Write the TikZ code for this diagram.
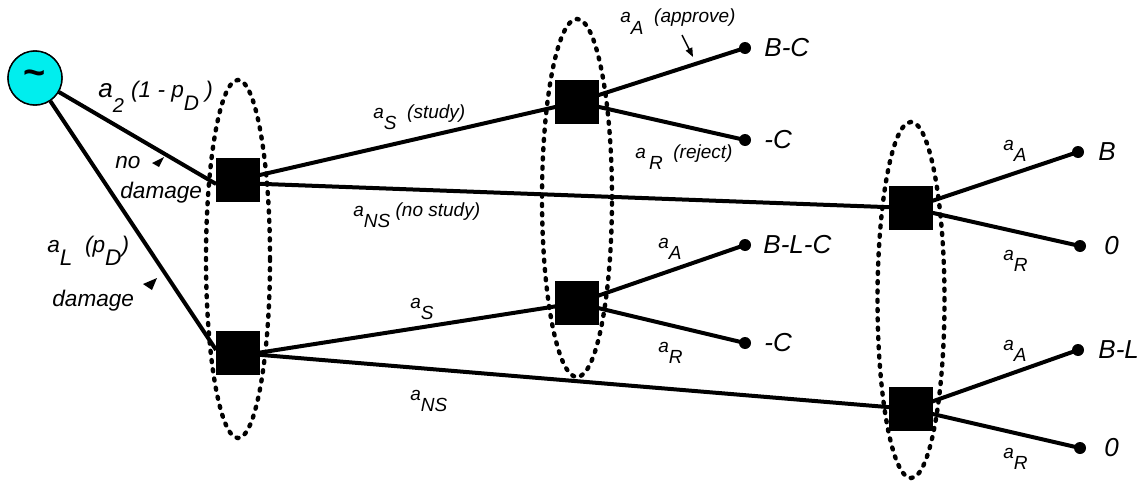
\documentclass[tikz,border=0pt]{standalone}
\usepackage{fontspec}
\setmainfont{Liberation Sans}
\usetikzlibrary{shapes.geometric,arrows.meta}
\newcommand\dn[1]{\raisebox{-0.6em}{#1}}
\definecolor{chancecol}{RGB}{0,238,238}
\begin{document}
\begin{tikzpicture}[x=0.5pt,y=-0.5pt,
  decbox/.style={rectangle, fill=black, minimum size=21.5pt, inner sep=0},
  br/.style={line width=2pt},
  info/.style={ellipse, draw, line width=2.2pt, dash pattern=on 1pt off 3.65pt, line cap=round, inner sep=0},
  term/.style={circle, fill=black, minimum size=6pt, inner sep=0},
  chance/.style={circle, draw, line width=0.7pt, fill=chancecol, minimum size=27pt, inner sep=0, font=\fontsize{19}{20}\selectfont\bfseries},
  sl/.style={font=\fontsize{9.5}{11}\selectfont\itshape, inner sep=0, anchor=base west},
  bl/.style={font=\fontsize{11.3}{13}\selectfont\itshape, inner sep=0, anchor=base west},
  tl/.style={font=\fontsize{13}{15}\selectfont\itshape, inner sep=0, anchor=west},
  pointer/.style={fill=black}
]
\useasboundingbox (0,0) rectangle (1146,482);

% decision nodes
\node[decbox] (s1) at (238,180) {};
\node[decbox] (s2) at (238,353) {};
\node[decbox] (s3) at (577,102) {};
\node[decbox] (s4) at (577,303) {};
\node[decbox] (s5) at (911,208) {};
\node[decbox] (s6) at (911,409) {};

% terminal nodes
\node[term] (t1) at (745,48) {};
\node[term] (t2) at (745,140) {};
\node[term] (t3) at (745,245) {};
\node[term] (t4) at (745,343) {};
\node[term] (t5) at (1078,152) {};
\node[term] (t6) at (1080,246) {};
\node[term] (t7) at (1078,350) {};
\node[term] (t8) at (1080,448) {};

% chance node
\node[chance] (c) at (35,78) {\textasciitilde};

% branches
\draw[br] (c) -- ([yshift=-2pt]s1.west);
\draw[br] (c) -- ([yshift=1.5pt]s2.west);
\draw[br] (s1.center) -- (s3.center);
\draw[br] ([yshift=-1.5pt]s1.center) -- (s5.center);
\draw[br] ([yshift=-1.5pt]s2.center) -- (s4.center);
\draw[br] (s2.center) -- (s6.center);
\draw[br] (s3.center) -- (t1.center);
\draw[br] (s3.center) -- (t2.center);
\draw[br] (s4.center) -- (t3.center);
\draw[br] (s4.center) -- (t4.center);
\draw[br] (s5.center) -- (t5.center);
\draw[br] (s5.center) -- (t6.center);
\draw[br] (s6.center) -- (t7.center);
\draw[br] (s6.center) -- (t8.center);

% redraw squares on top
\foreach \s in {s1,s2,s3,s4,s5,s6} {\fill (\s.south west) rectangle (\s.north east);}
\node[chance] at (c.center) {\textasciitilde};

% information sets
\node[info, minimum width=32pt, minimum height=179pt] (e1) at (238,259) {};
\node[info, minimum width=35pt, minimum height=179pt] (e2) at (577,198) {};
\node[info, minimum width=33.5pt, minimum height=178pt] (e3) at (911,300) {};

% terminal labels
\node[tl] (v1) at (764,48) {B-C};
\node[tl] (v2) at (764,140) {-C};
\node[tl] (v3) at (763,245) {B-L-C};
\node[tl] (v4) at (764,343) {-C};
\node[tl] (v5) at (1098,152) {B};
\node[tl] (v6) at (1104,246) {0};
\node[tl] (v7) at (1098,350) {B-L};
\node[tl] (v8) at (1104,448) {0};

% chance branch labels
\node[bl] (lnd) at (98,97) {\fontsize{13}{13}\selectfont a\dn{\fontsize{10}{10}\selectfont 2} \fontsize{11.3}{13}\selectfont(1 - p\dn{\fontsize{10.5}{10}\selectfont D} )};
\node[bl] (lno) at (115,168) {no};
\node[bl] (ldm) at (120,198) {damage};
\node[bl] (ld) at (47,252) {a\dn{L} \ (p\dn{D})};
\node[bl] (ldm2) at (52,306) {damage};
\fill[pointer] (152,163) -- (164,157) -- (159,167) -- cycle;
\fill[pointer] (143,284) -- (157,278) -- (152,290) -- cycle;

% decision branch labels
\node[sl] (la1) at (620,23) {a\dn{A} \ (approve)};
\node[sl] (lr1) at (635,158) {a\,\dn{R} \ (reject)};
\node[sl] (ls1) at (373,118) {a\dn{S} \ (study)};
\node[sl] (lns1) at (353,216) {a\dn{NS} (no study)};
\node[sl] (ls2) at (410,308) {a\dn{S}};
\node[sl] (lns2) at (410,400) {a\dn{NS}};
\node[sl] (la2) at (658,248) {a\dn{A}};
\node[sl] (lr2) at (658,352) {a\dn{R}};
\node[sl] (la3) at (1003,150) {a\dn{A}};
\node[sl] (lr3) at (1003,260) {a\dn{R}};
\node[sl] (la4) at (1003,350) {a\dn{A}};
\node[sl] (lr4) at (1003,458) {a\dn{R}};

% approve pointer
\coordinate (ap1) at (682,35);
\coordinate (ap2) at (693,57);
\draw[line width=0.75pt, -{Triangle[length=4.5pt,width=3.5pt]}] (ap1) -- (ap2);
\end{tikzpicture}
\end{document}
